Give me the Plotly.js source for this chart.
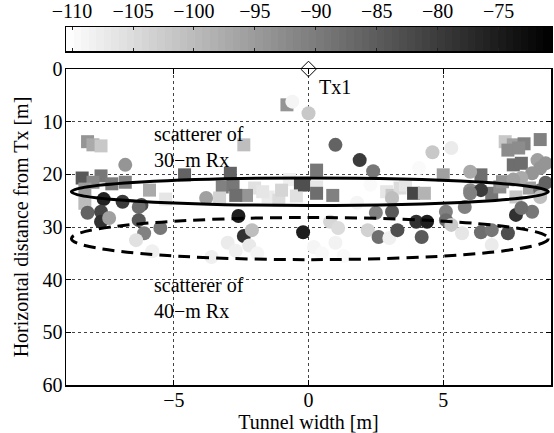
<!DOCTYPE html>
<html>
<head>
<meta charset="utf-8">
<script src="https://cdn.plot.ly/plotly-3.0.1.min.js"></script>
<style>html,body{margin:0;padding:0;background:#fff;}#chart{width:554px;height:433px;}</style>
</head>
<body>
<div id="chart"></div>
<script>
// ---- Data ----
// Square scatterers: position (x = tunnel width [m], y = horizontal distance [m]) and power [dB]
const sqX = [-8.2,-8.0,-7.7,-2.4,-0.8,
  -8.4,-7.7,-8.0,-7.3,-8.3,-4.6,-2.9,-3.2,-2.8,-5.9,-5.3,-3.3,-2.0,-1.5,-2.3,-2.7,-0.7,-0.3,-0.45,-1.1,-1.7,-1.0,
  -0.15,0.3,0.3,0.3,0.9,2.9,3.1,3.4,3.6,3.9,4.3,5.0,6.4,6.8,7.1,7.2,8.2,7.7,
  7.3,7.6,8.0,8.6,7.4,7.8,7.6,7.9,-8.3,-6.8];
const sqY = [13.8,14.4,14.6,14.4,6.8,
  20.7,20.3,21.5,21.8,22.8,20.1,19.8,22.4,22.0,23.0,24.7,24.5,22.6,24.3,24.0,24.0,21.0,22.0,24.1,24.9,23.3,23.0,
  22.0,22.4,19.2,23.6,24.0,23.3,24.0,22.6,22.0,23.6,23.6,20.1,20.1,23.6,22.4,21.4,22.6,24.3,
  13.8,14.4,14.2,13.4,15.4,15.0,18.2,17.9,25.5,21.5];
const sqP = [-94,-97.2,-101.9,-100.3,-94,
  -84.6,-89.3,-92,-90,-95,-86.2,-86.2,-90.9,-89.3,-97.2,-106.6,-103.4,-105.8,-107.4,-94,-87.8,-108,-83,-105.8,-105,-106.6,-104,
  -83,-106.6,-89.3,-87.8,-90.9,-106.6,-101.9,-105,-106.6,-81.5,-98.7,-95.6,-87.8,-89.3,-92.5,-94,-95.6,-101.9,
  -101.9,-95.6,-90.9,-90.9,-92.5,-92.5,-87.8,-87.8,-100,-91];

// Circle scatterers
const ciX = [-0.6,0.0,-6.8,1.0,1.9,2.4,4.1,4.6,5.3,6.0,8.5,8.6,8.3,7.9,7.6,8.8,
  -7.6,-6.9,-6.2,-8.2,-7.7,-7.7,-7.4,-6.3,-6.3,-6.1,-5.5,-6.4,-5.8,-3.8,-2.6,-2.4,-2.1,-3.0,-2.7,-2.2,-1.9,-3.6,
  -0.2,0.2,0.5,1.0,1.3,0.8,1.1,2.2,2.6,3.0,3.3,4.2,4.0,4.4,3.1,2.5,5.1,5.1,5.3,5.7,6.4,6.8,7.4,6.8,7.7,8.3,7.9,5.8,
  6.0,6.4,6.0,1.8,2.3,3.1,8.6,8.6,8.8];
const ciY = [6.2,8.4,18.2,14.4,17.3,19.4,18.8,15.8,15.0,19.5,17.3,18.8,19.8,20.7,21.0,17.9,
  24.7,25.2,25.8,27.3,27.1,29.0,28.3,26.2,28.7,31.2,30.2,32.5,34.6,24.5,27.9,31.7,30.6,33.0,34.5,33.5,35.0,35.7,
  31.0,33.8,35.0,33.0,35.5,29.0,30.2,30.6,31.9,32.1,30.6,31.9,29.0,29.0,27.1,27.3,27.1,28.7,29.6,31.2,31.0,30.6,31.2,33.4,27.7,27.1,26.4,26.2,
  23.0,23.0,23.6,25.4,22.0,24.5,23.0,24.3,21.6];
const ciP = [-108.9,-101.9,-94,-86.2,-79.9,-89.3,-109.7,-101.9,-107.4,-97.2,-95.6,-94,-94,-97.2,-95.6,-94,
  -76,-79.9,-83,-86.2,-81.5,-78.3,-95.6,-87.8,-84.6,-90.9,-89.3,-105.8,-108.1,-95.6,-75.2,-78.3,-100.3,-107.4,-108.1,-107,-108.9,-108.1,
  -75.2,-108.9,-109.5,-108.5,-109.5,-104.2,-105,-103.4,-87.8,-108.1,-83,-84.6,-78.3,-75.2,-84.6,-90.9,-90.9,-87.8,-101.9,-106.6,-87.8,-89.3,-83,-107.4,-78.3,-89.3,-87.8,-90.9,
  -92.5,-79.9,-90.9,-108.9,-109.7,-100.3,-87.8,-100.3,-86.2];

// Transmitter
const txX = [0];
const txY = [0];
const txLabel = ['Tx1'];

// Ellipses (scatterer loci): center x, center y, semi-axis x, semi-axis y
const ellCx = [0.05, 0.05];
const ellCy = [23.3, 32.2];
const ellAx = [8.85, 8.85];
const ellAy = [2.6, 4.0];

// Ellipse labels
const ellLabels = ['scatterer of<br>30\u2212m Rx', 'scatterer of<br>40\u2212m Rx'];
const ellLabelX = [-5.8, -5.8];
const ellLabelY = [14.8, 43.4];

// Colour scale limits [dB] and tick labels
const cMin = -110.5, cMax = -70.7;
const cbTicks = [-110,-105,-100,-95,-90,-85,-80,-75];

const xTicks = [-5,0,5];
const yTicks = [0,10,20,30,40,50,60];

// ---- Styling ----
const FONT = 'Liberation Serif, Times New Roman, serif';
const grayScale = [[0,'rgb(255,255,255)'],[1,'rgb(0,0,0)']];

// colourbar strip (64 levels, like a MATLAB colormap)
const nLev = 64;
const cbX = [], cbZ = [];
for (let i = 0; i < nLev; i++) {
  const v = cMin + (i + 0.5) * (cMax - cMin) / nLev;
  cbX.push(v); cbZ.push(v);
}

const traces = [
  {type:'scatter', mode:'markers', x:sqX, y:sqY, xaxis:'x', yaxis:'y',
   marker:{symbol:'square', size:13, color:sqP, cmin:cMin, cmax:cMax, colorscale:grayScale, showscale:false, line:{width:0}},
   hoverinfo:'skip'},
  {type:'scatter', mode:'markers', x:ciX, y:ciY, xaxis:'x', yaxis:'y',
   marker:{symbol:'circle', size:14, color:ciP, cmin:cMin, cmax:cMax, colorscale:grayScale, showscale:false, line:{width:0}},
   hoverinfo:'skip'},
  {type:'scatter', mode:'markers', x:txX, y:txY, xaxis:'x', yaxis:'y', cliponaxis:false,
   marker:{symbol:'diamond-open', size:12, color:'black', line:{width:1, color:'black'}}},
  {type:'heatmap', x:cbX, y:[0.5], z:[cbZ], xaxis:'x2', yaxis:'y2', zmin:cMin, zmax:cMax,
   colorscale:grayScale, showscale:false, hoverinfo:'skip'}
];

const shapes = [];
for (let i = 0; i < ellCx.length; i++) {
  shapes.push({type:'circle', xref:'x', yref:'y',
    x0:ellCx[i]-ellAx[i], x1:ellCx[i]+ellAx[i], y0:ellCy[i]-ellAy[i], y1:ellCy[i]+ellAy[i],
    line:{color:'black', width:3, dash: i === 0 ? 'solid' : '12px,7px'}});
}

const annFont = {family:FONT, size:20, color:'black'};
const annotations = [
  {x:txX[0]+0.3, y:txY[0]+3.5, xref:'x', yref:'y', text:txLabel[0], showarrow:false, xanchor:'left', yanchor:'middle', font:annFont}
];
for (let i = 0; i < ellLabels.length; i++) {
  annotations.push({x:ellLabelX[i], y:ellLabelY[i], xref:'x', yref:'y', text:ellLabels[i], showarrow:false,
    xanchor:'left', yanchor:'middle', align:'left', font:annFont});
}

const tickFont = {family:FONT, size:20, color:'black'};
const layout = {
  width:554, height:433,
  margin:{l:66, r:3, t:27, b:48, pad:0},
  paper_bgcolor:'white', plot_bgcolor:'white',
  showlegend:false,
  font:{family:FONT, color:'black'},
  xaxis:{domain:[0,1], anchor:'y', range:[-9,9], tickvals:xTicks, ticks:'inside', ticklen:5, tickcolor:'black',
    showline:true, linecolor:'black', linewidth:1.5, mirror:'ticks', zeroline:false,
    showgrid:true, gridcolor:'#444', griddash:'dot', gridwidth:1, ticklabelstandoff:-4,
    tickfont:tickFont, title:{text:'Tunnel width [m]', font:tickFont, standoff:0}},
  yaxis:{domain:[0,316/358], anchor:'x', range:[60,0], tickvals:yTicks, ticks:'inside', ticklen:5, tickcolor:'black',
    showline:true, linecolor:'black', linewidth:1.5, mirror:'ticks', zeroline:false,
    showgrid:true, gridcolor:'#444', griddash:'dot', gridwidth:1, ticklabelstandoff:-2,
    tickfont:tickFont, title:{text:'Horizontal distance from Tx [m]', font:tickFont, standoff:8}},
  xaxis2:{domain:[0,1], anchor:'y2', range:[cMin,cMax], tickvals:cbTicks, side:'top', ticks:'inside', ticklen:3, tickcolor:'#222',
    showline:true, linecolor:'black', linewidth:1.5, mirror:'ticks', zeroline:false, showgrid:false, tickfont:tickFont},
  yaxis2:{domain:[(385-51)/358, 1], anchor:'x2', range:[0,1], showticklabels:false, ticks:'',
    showline:true, linecolor:'black', linewidth:1.5, mirror:true, zeroline:false, showgrid:false},
  shapes:shapes,
  annotations:annotations
};

Plotly.newPlot('chart', traces, layout, {staticPlot:true, displayModeBar:false});
</script>
</body>
</html>
